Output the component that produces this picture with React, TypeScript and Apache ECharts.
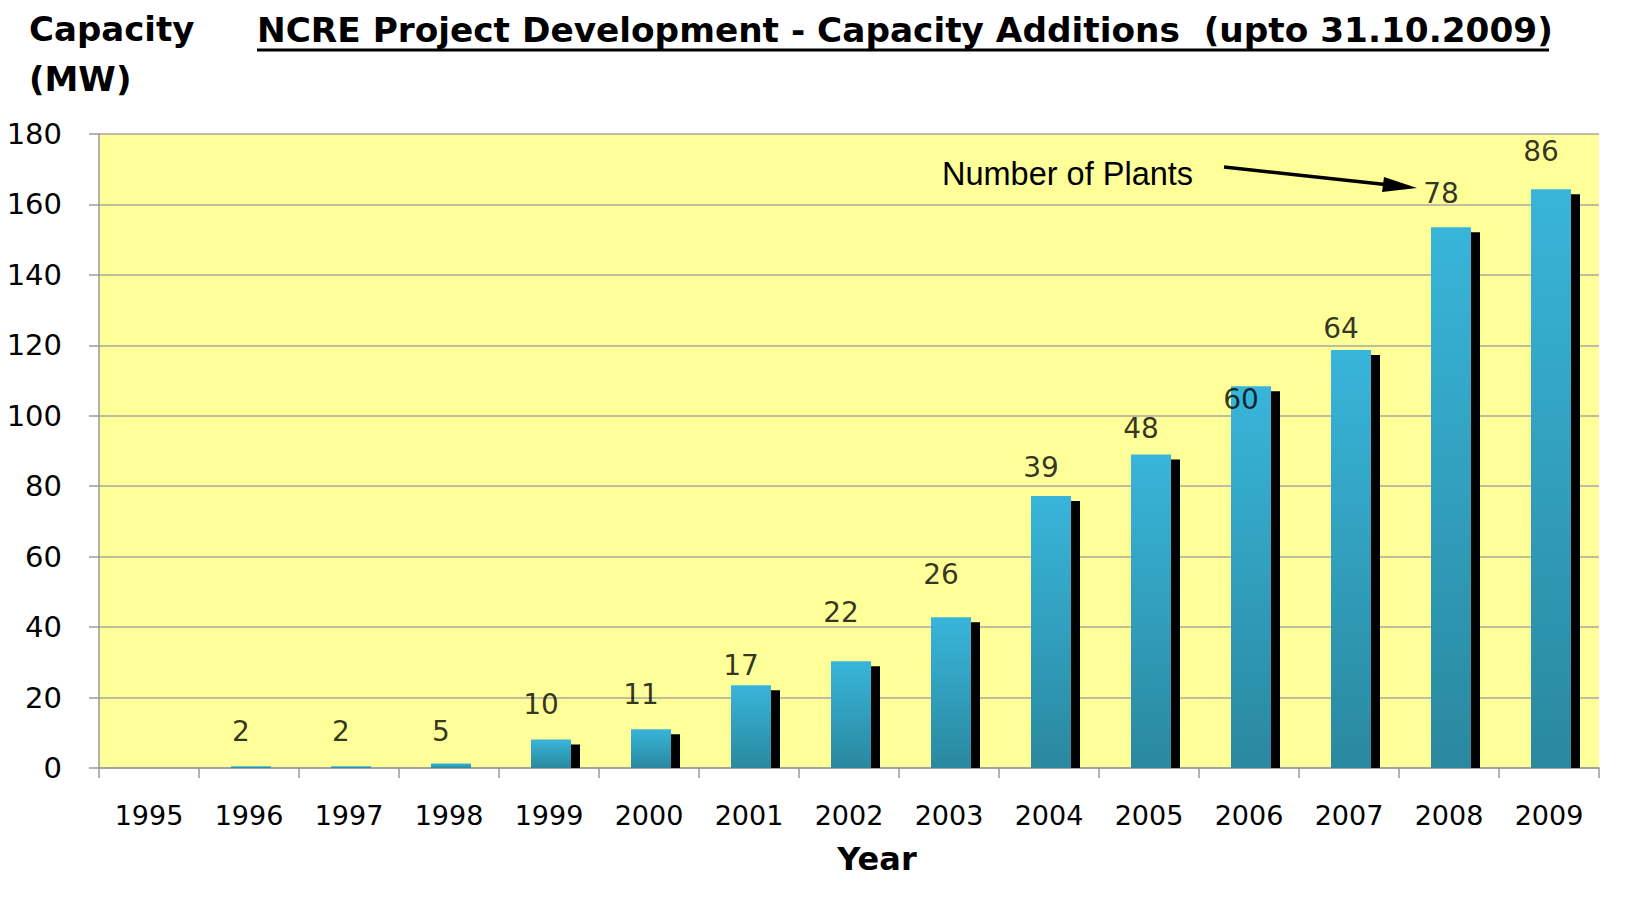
import React, { useEffect, useRef } from "react";
import * as echarts from "echarts";

const years = ["1995", "1996", "1997", "1998", "1999", "2000", "2001", "2002", "2003", "2004", "2005", "2006", "2007", "2008", "2009"];
const capacityMW = [0, 0.5, 0.5, 1.3, 8.1, 11.0, 23.5, 30.3, 42.8, 77.2, 89.0, 108.4, 118.7, 153.5, 164.3];
const plantCounts = [null, 2, 2, 5, 10, 11, 17, 22, 26, 39, 48, 60, 64, 78, 86];
const plantLabelHeights = [null, 10.3, 10.3, 10.3, 18.0, 20.9, 29.2, 44.2, 54.8, 85.4, 96.3, 104.6, 124.9, 163.2, 175.0];
const yTicks = { min: 0, max: 180, interval: 20 };

export default function App() {
  const ref = useRef<HTMLDivElement>(null);
  useEffect(() => {
    document.body.style.margin = "0";
    const chart = echarts.init(ref.current!, null, { renderer: "svg" });
    const barData = years.map((y, i) => [i, capacityMW[i]]);
    const labelData = years
      .map((y, i) => (plantCounts[i] == null ? null : [i, plantLabelHeights[i], plantCounts[i]]))
      .filter((d) => d !== null);
    const gradient = new echarts.graphic.LinearGradient(0, 0, 0, 1, [
      { offset: 0, color: "#38B5DA" },
      { offset: 1, color: "#2A889F" },
    ]);
    chart.setOption({
      animation: false,
      backgroundColor: "#ffffff",
      grid: {
        left: 99,
        right: 28,
        top: 134,
        bottom: 155,
        show: true,
        backgroundColor: "#FFFF99",
        borderWidth: 0,
      },
      xAxis: {
        type: "category",
        data: years,
        boundaryGap: true,
        axisLine: { show: true, lineStyle: { color: "#9a9a9a", width: 1.5 } },
        axisTick: { show: true, length: 10, lineStyle: { color: "#9a9a9a", width: 1.5 } },
        axisLabel: {
          margin: 34,
          color: "#000",
          fontFamily: "DejaVu Sans",
          fontSize: 27,
        },
        splitLine: { show: false },
      },
      yAxis: {
        type: "value",
        min: yTicks.min,
        max: yTicks.max,
        interval: yTicks.interval,
        axisLine: { show: true, lineStyle: { color: "#9a9a9a", width: 1.5 } },
        axisTick: { show: true, length: 10, lineStyle: { color: "#9a9a9a", width: 1.5 } },
        axisLabel: {
          margin: 37,
          color: "#000",
          fontFamily: "DejaVu Sans",
          fontSize: 29,
        },
        splitLine: { show: true, lineStyle: { color: "#a8a8a0", width: 1.5 } },
      },
      series: [
        {
          type: "custom",
          clip: true,
          data: barData,
          z: 2,
          renderItem: (params: any, api: any) => {
            const cat = api.value(0);
            const val = api.value(1);
            if (!val) return null;
            const top = api.coord([cat, val]);
            const base = api.coord([cat, 0]);
            const w = 40;
            const sx = 9;
            const sy = 5;
            const x = top[0] - w / 2 + 2;
            const h = base[1] - top[1];
            return {
              type: "group",
              children: [
                {
                  type: "rect",
                  shape: { x: x + sx, y: top[1] + sy, width: w, height: Math.max(0, h - sy) },
                  style: { fill: "#000000" },
                },
                {
                  type: "rect",
                  shape: { x, y: top[1], width: w, height: h },
                  style: { fill: gradient },
                },
              ],
            };
          },
        },
        {
          type: "scatter",
          data: labelData,
          symbolSize: 0,
          z: 5,
          label: {
            show: true,
            position: "inside",
            offset: [-8, 0],
            formatter: (p: any) => String(p.value[2]),
            color: "#000",
            fontFamily: "DejaVu Sans",
            fontSize: 28,
          },
        },
      ],
      graphic: [
        {
          type: "text",
          left: 29,
          top: 12,
          style: { text: "Capacity", font: "bold 34px 'DejaVu Sans'", fill: "#000" },
        },
        {
          type: "text",
          left: 29,
          top: 62,
          style: { text: "(MW)", font: "bold 34px 'DejaVu Sans'", fill: "#000" },
        },
        {
          type: "text",
          left: 257,
          top: 13,
          style: {
            text: "NCRE Project Development - Capacity Additions  (upto 31.10.2009)",
            font: "bold 34.3px 'DejaVu Sans'",
            fill: "#000",
          },
        },
        {
          type: "line",
          shape: { x1: 257, y1: 50, x2: 1549, y2: 50 },
          style: { stroke: "#000", lineWidth: 3 },
        },
        {
          type: "text",
          x: 877,
          y: 859,
          style: {
            text: "Year",
            font: "bold 32px 'DejaVu Sans'",
            fill: "#000",
            align: "center",
            verticalAlign: "middle",
          },
        },
        {
          type: "text",
          x: 942,
          y: 174,
          z: 10,
          style: {
            text: "Number of Plants",
            font: "32.5px 'Liberation Sans'",
            fill: "#000",
            verticalAlign: "middle",
          },
        },
        {
          type: "line",
          z: 10,
          shape: { x1: 1224, y1: 167, x2: 1390, y2: 185 },
          style: { stroke: "#000", lineWidth: 3.5 },
        },
        {
          type: "polygon",
          z: 10,
          shape: { points: [[1417, 188], [1384, 177], [1382, 192]] },
          style: { fill: "#000" },
        },
      ],
    });
    return () => chart.dispose();
  }, []);
  return <div ref={ref} style={{ width: 1627, height: 923 }} />;
}
